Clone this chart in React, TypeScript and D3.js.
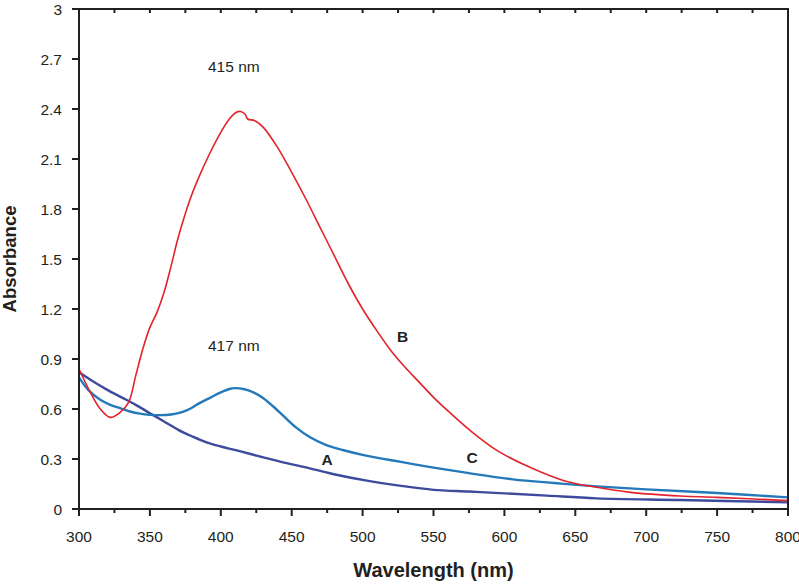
import React from "react";
import * as d3 from "d3";

const xTicks = [300, 350, 400, 450, 500, 550, 600, 650, 700, 750, 800];
const xMinor = [325, 375, 425, 475, 525, 575, 625, 675, 725, 775];
const yTicks = [0, 0.3, 0.6, 0.9, 1.2, 1.5, 1.8, 2.1, 2.4, 2.7, 3];
const yTickLabels = ["0", "0.3", "0.6", "0.9", "1.2", "1.5", "1.8", "2.1", "2.4", "2.7", "3"];

const wlB = [300, 308, 315, 322, 329, 335, 340, 345, 350, 355, 360, 365, 370, 378, 385, 392, 400, 406, 411, 414, 417, 419, 424, 430, 440, 450, 460, 470, 480, 490, 500, 510, 520, 530, 540, 550, 560, 576, 595, 618, 642, 665, 689, 724, 750, 800];
const absB = [0.84, 0.70, 0.60, 0.55, 0.58, 0.64, 0.80, 0.96, 1.09, 1.18, 1.30, 1.46, 1.63, 1.85, 2.00, 2.13, 2.26, 2.34, 2.38, 2.385, 2.37, 2.34, 2.33, 2.29, 2.17, 2.02, 1.86, 1.69, 1.52, 1.35, 1.20, 1.07, 0.95, 0.85, 0.76, 0.67, 0.59, 0.47, 0.35, 0.25, 0.17, 0.13, 0.10, 0.078, 0.07, 0.05];

const wlA = [300, 310, 320, 330, 340, 350, 360, 370, 380, 390, 400, 412, 430, 444, 460, 479, 503, 526, 550, 575, 600, 630, 665, 724, 800];
const absA = [0.82, 0.765, 0.715, 0.67, 0.625, 0.575, 0.525, 0.475, 0.435, 0.40, 0.375, 0.35, 0.31, 0.28, 0.25, 0.21, 0.17, 0.14, 0.115, 0.105, 0.094, 0.08, 0.064, 0.054, 0.04];

const wlC = [300, 307, 315, 322, 329, 336, 343, 350, 357, 365, 372, 378, 385, 393, 400, 406, 410, 416, 423, 430, 437, 444, 453, 463, 474, 486, 500, 526, 549, 575, 606, 635, 665, 700, 750, 800];
const absC = [0.79, 0.71, 0.655, 0.625, 0.605, 0.585, 0.572, 0.565, 0.563, 0.567, 0.58, 0.60, 0.635, 0.67, 0.70, 0.72, 0.725, 0.72, 0.70, 0.665, 0.615, 0.56, 0.49, 0.43, 0.385, 0.354, 0.325, 0.284, 0.25, 0.215, 0.178, 0.156, 0.136, 0.118, 0.096, 0.07];

const W = 799;
const H = 585;
const left = 79, right = 788, top = 9, bottom = 509;
const font = "'Liberation Sans', Arial, sans-serif";
const axisColor = "#231f20";

export default function App() {
  const x = d3.scaleLinear().domain([300, 800]).range([left, right]);
  const y = d3.scaleLinear().domain([0, 3]).range([bottom, top]);
  const mk = (wl: number[], ab: number[]) =>
    d3.line<number>().x((d, i) => x(wl[i])).y((d, i) => y(ab[i])).curve(d3.curveCatmullRom.alpha(0.5))(ab) || "";

  return (
    <svg width={W} height={H} style={{ position: "absolute", left: 0, top: 0, background: "#fff" }}>
      <rect x={0} y={0} width={W} height={H} fill="#fff" />
      <path d={mk(wlA, absA)} fill="none" stroke="#3d4b9c" strokeWidth={2.4} />
      <path d={mk(wlC, absC)} fill="none" stroke="#2379ba" strokeWidth={2.4} />
      <path d={mk(wlB, absB)} fill="none" stroke="#e2232b" strokeWidth={1.6} />
      <rect x={left} y={top} width={right - left} height={bottom - top} fill="none" stroke={axisColor} strokeWidth={2} />
      {xTicks.map((t) => (
        <g key={"xt" + t}>
          <line x1={x(t)} x2={x(t)} y1={bottom} y2={bottom + 7} stroke={axisColor} strokeWidth={2} />
          <line x1={x(t)} x2={x(t)} y1={top} y2={top + 4} stroke={axisColor} strokeWidth={2} />
          <text x={x(t)} y={bottom + 33} textAnchor="middle" fontFamily={font} fontSize={15.5} fill="#231f20">{t}</text>
        </g>
      ))}
      {xMinor.map((t) => (
        <g key={"xm" + t}>
          <line x1={x(t)} x2={x(t)} y1={bottom} y2={bottom + 4} stroke={axisColor} strokeWidth={2} />
          <line x1={x(t)} x2={x(t)} y1={top} y2={top + 4} stroke={axisColor} strokeWidth={2} />
        </g>
      ))}
      {yTicks.map((t, i) => (
        <g key={"yt" + t}>
          <line x1={left - 7} x2={left} y1={y(t)} y2={y(t)} stroke={axisColor} strokeWidth={2} />
          <text x={62} y={y(t) + 5.5} textAnchor="end" fontFamily={font} fontSize={15.5} fill="#231f20">{yTickLabels[i]}</text>
        </g>
      ))}
      <text x={(left + right) / 2} y={577} textAnchor="middle" fontFamily={font} fontSize={20} fontWeight="bold" fill="#231f20">Wavelength (nm)</text>
      <text transform={`translate(16,${(top + bottom) / 2}) rotate(-90)`} textAnchor="middle" fontFamily={font} fontSize={18.5} fontWeight="bold" fill="#231f20">Absorbance</text>
      <text x={208} y={72} fontFamily={font} fontSize={15.5} fill="#231f20">415 nm</text>
      <text x={208} y={351} fontFamily={font} fontSize={15.5} fill="#231f20">417 nm</text>
      <text x={397} y={342} fontFamily={font} fontSize={15.5} fontWeight="bold" fill="#231f20">B</text>
      <text x={321.5} y={465} fontFamily={font} fontSize={15.5} fontWeight="bold" fill="#231f20">A</text>
      <text x={466.5} y={463} fontFamily={font} fontSize={15.5} fontWeight="bold" fill="#231f20">C</text>
    </svg>
  );
}
